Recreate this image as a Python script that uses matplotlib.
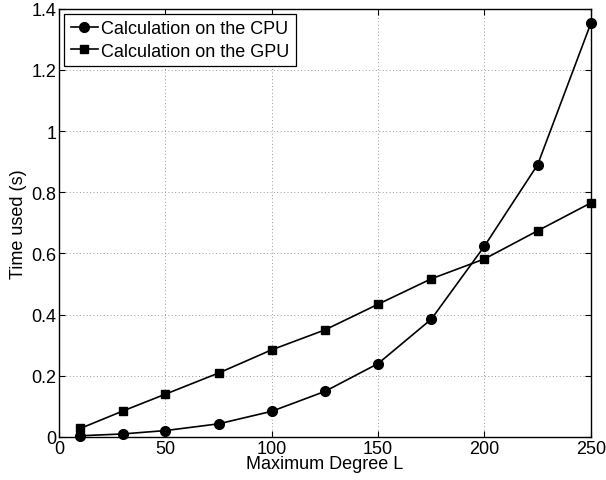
import matplotlib
matplotlib.use("Agg")
import matplotlib.pyplot as plt

# data
degree = [10, 30, 50, 75, 100, 125, 150, 175, 200, 225, 250]
cpu_time = [0.004, 0.010, 0.021, 0.043, 0.084, 0.149, 0.240, 0.385, 0.624, 0.890, 1.352]
gpu_time = [0.028, 0.085, 0.140, 0.209, 0.285, 0.350, 0.434, 0.517, 0.582, 0.674, 0.765]
x_ticks = [0, 50, 100, 150, 200, 250]
y_ticks = [0, 0.2, 0.4, 0.6, 0.8, 1.0, 1.2, 1.4]
y_ticklabels = ["0", "0.2", "0.4", "0.6", "0.8", "1", "1.2", "1.4"]

plt.rcParams["font.family"] = ["Liberation Sans", "DejaVu Sans"]
plt.rcParams["font.size"] = 13

fig = plt.figure(figsize=(6.06, 4.81), dpi=100)
ax = fig.add_axes([0.0974, 0.0894, 0.8776, 0.8906])

ax.plot(degree, cpu_time, "-o", color="black", lw=1.2, ms=7, clip_on=False, zorder=3,
        label="Calculation on the CPU")
ax.plot(degree, gpu_time, "-s", color="black", lw=1.2, ms=5.2, clip_on=False, zorder=3,
        label="Calculation on the GPU")

ax.set_xlim(0, 250)
ax.set_ylim(0, 1.4)
ax.set_xticks(x_ticks)
ax.set_yticks(y_ticks)
ax.set_yticklabels(y_ticklabels)
ax.tick_params(direction="in", top=True, right=True, length=4, width=0.8, labelsize=13, pad=2)
ax.grid(True, linestyle=(0, (1, 2.5)), color="#999999", linewidth=0.7)
for s in ax.spines.values():
    s.set_linewidth(1.0)

ax.set_xlabel("Maximum Degree L", fontsize=13, labelpad=-1)
ax.set_ylabel("Time used (s)", fontsize=13, labelpad=3)

leg = ax.legend(loc="upper left", handlelength=1.5, handletextpad=0.2, borderpad=0.35,
                labelspacing=0.3, borderaxespad=0.3, fancybox=False, fontsize=13)
leg.get_frame().set_edgecolor("black")
leg.get_frame().set_linewidth(0.9)
leg.get_frame().set_alpha(1)

fig.savefig("out.png", dpi=100)
